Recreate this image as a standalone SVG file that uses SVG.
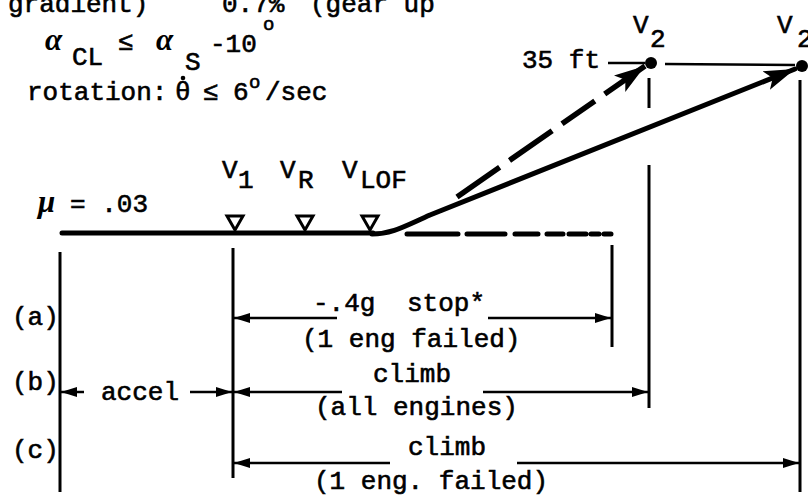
<svg xmlns="http://www.w3.org/2000/svg" width="808" height="498" viewBox="0 0 808 498">
<style>
.t{font-family:"Liberation Mono","DejaVu Sans Mono",monospace;font-size:26px;fill:#000;stroke:#000;stroke-width:0.6}
.sup{font-size:19px}
.gk{font-family:"Liberation Serif","DejaVu Serif",serif;font-weight:bold;font-style:italic;font-size:31px;fill:#000}
.ln{stroke:#000;stroke-width:3;fill:none}
.th{stroke:#000;stroke-width:2.5;fill:none}
.rw{stroke:#000;stroke-width:5;fill:none;stroke-linecap:round}
.tri{stroke:#000;stroke-width:3;fill:#fff;stroke-linejoin:miter}
</style>
<defs>
<marker id="ah" markerUnits="userSpaceOnUse" markerWidth="17" markerHeight="12" refX="16" refY="6" orient="auto"><path d="M0,1 L16,6 L0,11 Z" fill="#000"/></marker>
<marker id="big" markerUnits="userSpaceOnUse" markerWidth="32" markerHeight="22" refX="31" refY="11" orient="auto"><path d="M0,1 L31,11 L0,21 L7,11 Z" fill="#000"/></marker>
</defs>

<g id="conditions">
<text class="t" x="8" y="12">gradient)</text>
<text class="t" x="222" y="12">0.7%</text>
<text class="t" x="310" y="12">(gear up</text>
<text class="gk" x="45" y="50">α</text>
<text class="t" x="72" y="65">CL</text>
<text class="t" x="118" y="50">≤</text>
<text class="gk" x="156" y="50">α</text>
<text class="t" x="185" y="70">S</text>
<text class="t" x="210" y="52">-10</text>
<text class="t sup" x="263" y="30">o</text>
<text class="t" x="27" y="100">rotation:</text>
<text class="t" x="175" y="100">θ</text>
<circle cx="183" cy="78" r="2.3" fill="#000"/>
<text class="t" x="203" y="100">≤</text>
<text class="t" x="233" y="100">6</text>
<text class="t sup" x="249" y="88">o</text>
<text class="t" x="265" y="100">/sec</text>
</g>

<g id="runway">
<text class="gk" x="38" y="212">μ</text>
<text class="t" x="70" y="212">= .03</text>
<line class="rw" x1="62" y1="233" x2="373" y2="233"/>
</g>

<g id="v1">
<text class="t" x="222" y="178">V</text><text class="t" x="238" y="188">1</text>
<polygon class="tri" points="227,216 243,216 235,230"/>
</g>
<g id="vr">
<text class="t" x="280" y="178">V</text><text class="t" x="298" y="188">R</text>
<polygon class="tri" points="297,216 313,216 305,230"/>
</g>
<g id="vlof">
<text class="t" x="342" y="178">V</text><text class="t" x="360" y="188">LOF</text>
<polygon class="tri" points="362,216 378,216 370,230"/>
</g>

<g id="v2-all">
<text class="t" x="522" y="68">35 ft</text>
<text class="t" x="633" y="33">V</text><text class="t" x="650" y="47">2</text>
<circle cx="651" cy="63" r="6" fill="#000"/>
</g>
<g id="v2-fail">
<text class="t" x="777" y="33">V</text><text class="t" x="797" y="47">2</text>
<circle cx="802" cy="66" r="6" fill="#000"/>
</g>

<g id="labels">
<text class="t" x="12" y="325">(a)</text>
<text class="t" x="12" y="390">(b)</text>
<text class="t" x="12" y="458">(c)</text>
<text class="t" x="101" y="400">accel</text>
<text class="t" x="313" y="311">-.4g</text>
<text class="t" x="407" y="311">stop*</text>
<text class="t" x="302" y="347">(1 eng failed)</text>
<text class="t" x="373" y="382">climb</text>
<text class="t" x="315" y="415">(all engines)</text>
<text class="t" x="408" y="455">climb</text>
<text class="t" x="314" y="489">(1 eng. failed)</text>
</g>

<g id="connectors">
<path class="rw" d="M372,234 C392,234 405,226 430,215 L795,69" marker-end="url(#big)"/>
<line x1="457" y1="197" x2="645" y2="66" stroke="#000" stroke-width="5.5" stroke-dasharray="52 12 52 12 40 12 60" marker-end="url(#big)"/>
<path class="rw" d="M407,234 H458 M467,234 H505 M515,234 H538 M547,234 H563 M569,234 H586 M591,234 H599 M604,234 H611"/>
<line class="th" x1="608" y1="63" x2="645" y2="63"/>
<line class="th" x1="665" y1="64" x2="795" y2="65"/>
<line class="ln" x1="60" y1="252" x2="60" y2="492"/>
<line class="ln" x1="233" y1="248" x2="233" y2="478"/>
<line class="ln" x1="612" y1="245" x2="612" y2="347"/>
<line class="ln" x1="649" y1="78" x2="649" y2="108"/>
<line class="ln" x1="649" y1="165" x2="649" y2="408"/>
<line class="ln" x1="800" y1="80" x2="800" y2="492"/>
<line class="th" x1="337" y1="318" x2="234" y2="318" marker-end="url(#ah)"/>
<line class="th" x1="488" y1="318" x2="611" y2="318" marker-end="url(#ah)"/>
<line class="th" x1="84" y1="392" x2="61" y2="392" marker-end="url(#ah)"/>
<line class="th" x1="190" y1="392" x2="232" y2="392" marker-end="url(#ah)"/>
<line class="th" x1="342" y1="392" x2="234" y2="392" marker-end="url(#ah)"/>
<line class="th" x1="483" y1="392" x2="648" y2="392" marker-end="url(#ah)"/>
<line class="th" x1="390" y1="463" x2="234" y2="463" marker-end="url(#ah)"/>
<line class="th" x1="517" y1="463" x2="799" y2="463" marker-end="url(#ah)"/>
</g>
</svg>
